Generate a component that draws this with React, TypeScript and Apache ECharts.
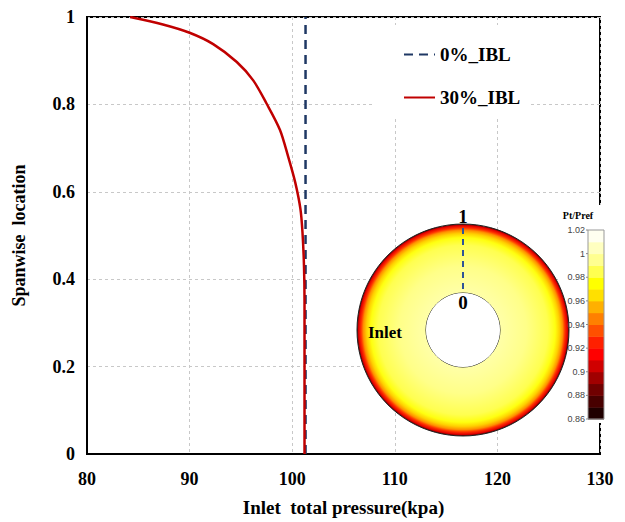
import React, { useEffect, useRef } from "react";
import * as echarts from "echarts";

const xTicks = [80, 90, 100, 110, 120, 130];
const yTicks = [0, 0.2, 0.4, 0.6, 0.8, 1];
const seriesNames = ["0%_IBL", "30%_IBL"];

const span0 = [0, 0.2, 0.4, 0.6, 0.8, 1.0];
const press0 = [101.3, 101.3, 101.3, 101.3, 101.3, 101.3];

const span30 = [1.0, 0.983, 0.964, 0.938, 0.897, 0.855, 0.802, 0.742, 0.681, 0.621, 0.561, 0.508, 0.43, 0.35, 0.2, 0.0];
const press30 = [84.2, 87.4, 90.0, 92.3, 94.6, 96.2, 97.5, 98.8, 99.6, 100.3, 100.8, 101.0, 101.15, 101.2, 101.2, 101.2];

const cbLevels = [0.86, 0.87, 0.88, 0.89, 0.9, 0.91, 0.92, 0.93, 0.94, 0.95, 0.96, 0.97, 0.98, 0.99, 1.0, 1.01, 1.02];
const cbColors = ["#200000", "#480000", "#700000", "#a00000", "#d00000", "#ff0000", "#ff2000", "#ff5000", "#ff8000", "#ffb000", "#ffe000", "#ffff00", "#ffff50", "#ffff90", "#ffffc0", "#fffff0"];
const cbTicks = [0.86, 0.88, 0.9, 0.92, 0.94, 0.96, 0.98, 1, 1.02];

const SERIF = "'Liberation Serif', 'Times New Roman', serif";

export default function App() {
  const ref = useRef<HTMLDivElement>(null);
  useEffect(() => {
    if (!ref.current) return;
    const chart = echarts.init(ref.current, null, { renderer: "svg" });

    const cbX = 588, cbW = 16, cbTop = 230, cbBot = 419;
    const vMin = cbLevels[0], vMax = cbLevels[cbLevels.length - 1];
    const vy = (v: number) => cbBot - ((v - vMin) / (vMax - vMin)) * (cbBot - cbTop);
    const cbRects: any[] = cbColors.map((c, i) => ({
      type: "rect",
      shape: { x: cbX, y: vy(cbLevels[i + 1]), width: cbW, height: vy(cbLevels[i]) - vy(cbLevels[i + 1]) + 0.5 },
      style: { fill: c },
      silent: true,
    }));
    const cbLabels: any[] = cbTicks.map((t) => ({
      type: "text",
      x: cbX - 3,
      y: vy(t),
      style: { text: String(t), fill: "#444", font: "9px 'Liberation Sans', Arial, sans-serif", align: "right", verticalAlign: "middle" },
    }));
    const cbTickMarks: any[] = cbTicks.map((t) => ({
      type: "line",
      shape: { x1: cbX - 2, y1: vy(t), x2: cbX, y2: vy(t) },
      style: { stroke: "#888", lineWidth: 1 },
    }));

    const cx = 463, cy = 330, R = 106, r0 = 37;

    chart.setOption({
      animation: false,
      backgroundColor: "#fff",
      grid: { left: 87, right: 25, top: 17, bottom: 65, show: true, borderColor: "#000", borderWidth: 2, backgroundColor: "transparent" },
      legend: {
        data: seriesNames,
        orient: "vertical",
        left: 372,
        top: 25,
        backgroundColor: "#fff",
        padding: [20, 10, 12, 31],
        itemWidth: 31,
        itemHeight: 14,
        itemGap: 24,
        itemStyle: { color: "rgba(0,0,0,0)", borderWidth: 0, opacity: 0 },
        textStyle: { fontFamily: SERIF, fontWeight: "bold", fontSize: 19, color: "#000" },
      },
      xAxis: {
        type: "value",
        min: 80,
        max: 130,
        interval: 10,
        name: "Inlet  total pressure(kpa)",
        nameLocation: "middle",
        nameGap: 44,
        nameTextStyle: { fontFamily: SERIF, fontWeight: "bold", fontSize: 19, color: "#000" },
        axisLine: { show: true, lineStyle: { color: "#000", width: 2 } },
        axisTick: { show: false },
        axisLabel: { fontFamily: SERIF, fontWeight: "bold", fontSize: 18, color: "#000", margin: 16 },
        splitLine: { show: true, lineStyle: { color: "#c8c8c8", type: [3, 3], width: 1 } },
      },
      yAxis: {
        type: "value",
        min: 0,
        max: 1,
        interval: 0.2,
        name: "Spanwise  location",
        nameLocation: "middle",
        nameGap: 59,
        nameTextStyle: { fontFamily: SERIF, fontWeight: "bold", fontSize: 18, color: "#000" },
        axisLine: { show: true, lineStyle: { color: "#000", width: 2 } },
        axisTick: { show: false },
        axisLabel: { fontFamily: SERIF, fontWeight: "bold", fontSize: 18, color: "#000", margin: 12 },
        splitLine: { show: true, lineStyle: { color: "#c8c8c8", type: [3, 3], width: 1 } },
      },
      series: [
        {
          name: seriesNames[0],
          type: "line",
          data: span0.map((s, i) => [press0[i], s]),
          symbol: "none",
          lineStyle: { color: "#1f3864", width: 2.5, type: [9, 6] },
          itemStyle: { color: "#1f3864" },
          z: 3,
        },
        {
          name: seriesNames[1],
          type: "line",
          data: span30.map((s, i) => [press30[i], s]),
          symbol: "none",
          smooth: 0.3,
          lineStyle: { color: "#c00000", width: 2.5 },
          itemStyle: { color: "#c00000" },
          z: 4,
        },
      ],
      graphic: [
        { type: "rect", shape: { x: 560, y: 205, width: 60, height: 218 }, style: { fill: "#fff" }, z: 50 },
        {
          type: "ring",
          shape: { cx, cy, r: R, r0 },
          style: {
            fill: new echarts.graphic.RadialGradient(0.5, 0.5, 0.5, [
              { offset: r0 / R, color: "#ffffa8" },
              { offset: 0.6, color: "#ffff88" },
              { offset: 0.8, color: "#ffff50" },
              { offset: 0.87, color: "#ffff10" },
              { offset: 0.91, color: "#ffd000" },
              { offset: 0.94, color: "#ff9000" },
              { offset: 0.962, color: "#ff3000" },
              { offset: 0.985, color: "#e00000" },
              { offset: 1.0, color: "#500000" },
            ]),
            stroke: "#222",
            lineWidth: 1,
          },
          z: 51,
        },
        { type: "circle", shape: { cx, cy, r: r0 }, style: { fill: "#fff" }, z: 52 },
        { type: "line", shape: { x1: cx, y1: 228, x2: cx, y2: 291 }, style: { stroke: "#2e5597", lineWidth: 2, lineDash: [6, 5] }, z: 53 },
        { type: "text", x: cx, y: 216, style: { text: "1", font: `bold 19px ${SERIF}`, fill: "#000", align: "center", verticalAlign: "middle" }, z: 54 },
        { type: "text", x: cx, y: 302, style: { text: "0", font: `bold 19px ${SERIF}`, fill: "#000", align: "center", verticalAlign: "middle" }, z: 54 },
        { type: "text", x: 368, y: 332, style: { text: "Inlet", font: `bold 17px ${SERIF}`, fill: "#000", align: "left", verticalAlign: "middle" }, z: 54 },
        { type: "text", x: 578, y: 215, style: { text: "Pt/Pref", font: `bold 10px ${SERIF}`, fill: "#000", align: "center", verticalAlign: "middle" }, z: 54 },
        ...cbRects.map((r) => ({ ...r, z: 55 })),
        { type: "rect", shape: { x: cbX, y: cbTop, width: cbW, height: cbBot - cbTop }, style: { fill: "none", stroke: "#999", lineWidth: 1 }, z: 56 },
        ...cbLabels.map((l) => ({ ...l, z: 56 })),
        ...cbTickMarks.map((l) => ({ ...l, z: 56 })),
      ],
    });
    return () => chart.dispose();
  }, []);
  return <div ref={ref} style={{ width: 625, height: 522, position: "absolute", left: 0, top: 0 }} />;
}
